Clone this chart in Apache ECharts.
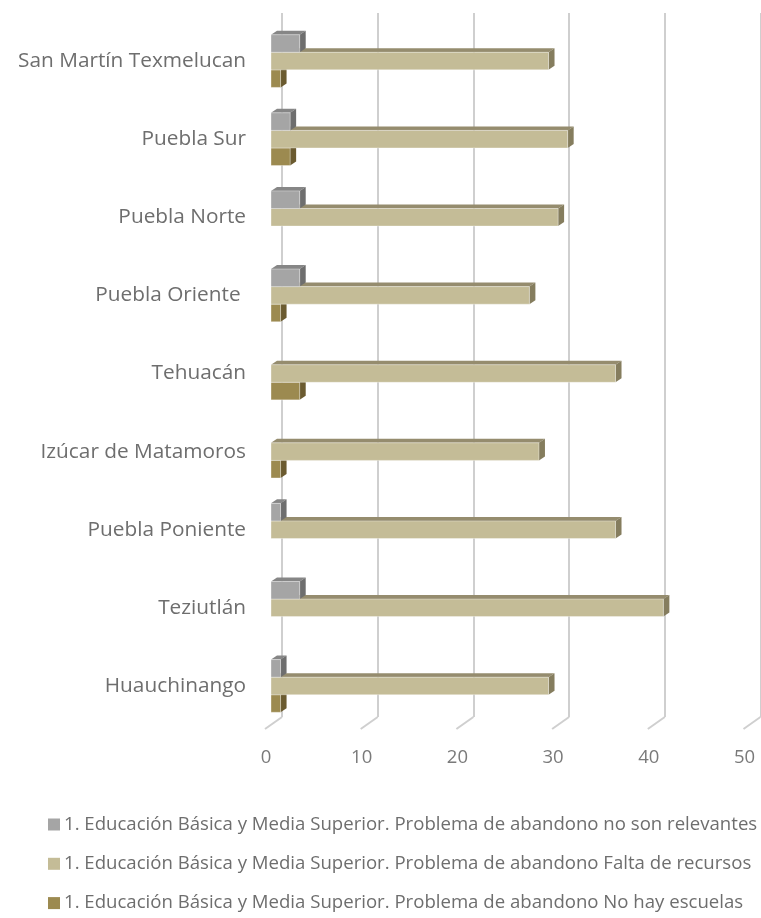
<!DOCTYPE html>
<html><head><meta charset="utf-8">
<script src="https://cdn.jsdelivr.net/npm/echarts@6/dist/echarts.min.js"></script>
<style>html,body{margin:0;padding:0;background:#fff}#c{width:761px;height:918px}</style>
</head><body><div id="c"></div>
<script>
// Categories bottom to top
const categories = ["Huauchinango","Teziutlán","Puebla Poniente","Izúcar de Matamoros","Tehuacán","Puebla Oriente ","Puebla Norte","Puebla Sur","San Martín Texmelucan"];
const seriesNames = [
  "1. Educación Básica y Media Superior. Problema de abandono no son relevantes",
  "1. Educación Básica y Media Superior. Problema de abandono Falta de recursos",
  "1. Educación Básica y Media Superior. Problema de abandono No hay escuelas"
];
const noRelevantes   = [1, 3, 1, 0, 0, 3, 3, 2, 3];
const faltaRecursos  = [29, 41, 36, 28, 36, 27, 30, 31, 29];
const noHayEscuelas  = [1, 0, 0, 1, 3, 1, 0, 2, 1];
const xTicks = [0, 10, 20, 30, 40, 50];

const values = [noRelevantes, faltaRecursos, noHayEscuelas];
const front = ["#a5a5a5", "#c4bc97", "#9c8a50"];
const top_ = ["#868686", "#958c6e", "#7d6d3c"];
const side = ["#6e6e6e", "#857d5e", "#6b5b30"];
const DX = 6, DY = -4;

const chart = echarts.init(document.getElementById('c'));

function barSeries(s) {
  return {
    name: seriesNames[s],
    type: 'custom',
    xAxisIndex: 0, yAxisIndex: 0,
    z: 10 - s,
    itemStyle: { color: front[s] },
    encode: { x: 1, y: 0 },
    data: categories.map((c, i) => [i, values[s][i]]),
    renderItem: function (params, api) {
      const ci = api.value(0), v = api.value(1);
      if (!v) return;
      const c0 = api.coord([0, ci]);
      const c1 = api.coord([v, ci]);
      const band = api.size([0, 1])[1];
      const h = band * 0.225;
      const y0 = c0[1] - 1.5 * h + s * h;
      const x0 = c0[0], x1 = c1[0];
      return {
        type: 'group',
        children: [
          { type: 'polygon', shape: { points: [[x0, y0], [x0 + DX, y0 + DY], [x1 + DX, y0 + DY], [x1, y0]] },
            style: { fill: top_[s] } },
          { type: 'polygon', shape: { points: [[x1, y0], [x1 + DX, y0 + DY], [x1 + DX, y0 + h + DY], [x1, y0 + h]] },
            style: { fill: side[s] } },
          { type: 'rect', shape: { x: x0, y: y0, width: x1 - x0, height: h },
            style: { fill: front[s], stroke: 'rgba(255,255,255,0.35)', lineWidth: 1 } }
        ]
      };
    }
  };
}

const option = {
  animation: false,
  backgroundColor: '#fff',
  textStyle: { fontFamily: 'Open Sans' },
  grid: [
    { left: 271, right: 11.5, top: 22, bottom: 193, containLabel: false },
    { left: 282, right: 0.5, top: 13, bottom: 201, containLabel: false }
  ],
  xAxis: [
    { gridIndex: 0, type: 'value', min: 0, max: 50, interval: 10,
      axisLine: { show: false }, axisTick: { show: false }, splitLine: { show: false },
      axisLabel: { color: '#7a7a7a', fontSize: 18.5, fontFamily: 'Open Sans', margin: 23, padding: [0, 10, 0, 0],
        formatter: v => xTicks.includes(v) ? String(v) : '' } },
    { gridIndex: 1, type: 'value', min: 0, max: 50, interval: 10,
      axisLine: { show: false }, axisTick: { show: false }, axisLabel: { show: false },
      splitLine: { show: true, lineStyle: { color: '#cfcfcf', width: 2 } } }
  ],
  yAxis: [
    { gridIndex: 0, type: 'category', data: categories,
      axisLine: { show: false }, axisTick: { show: false },
      axisLabel: { color: '#6e6e6e', fontSize: 20.8, fontFamily: 'Open Sans', margin: 25 } },
    { gridIndex: 1, type: 'value', min: 0, max: 1, show: false }
  ],
  legend: {
    orient: 'vertical', left: 43, top: 810,
    itemWidth: 12, itemHeight: 12, itemGap: 20.3,
    icon: 'rect',
    data: seriesNames,
    textStyle: { color: '#6e6e6e', fontSize: 18.6, fontFamily: 'Open Sans', padding: [0, 0, 0, -1] }
  },
  series: [
    {
      type: 'custom', xAxisIndex: 1, yAxisIndex: 1, z: 1, silent: true,
      data: xTicks.map(v => [v, 0]),
      renderItem: function (params, api) {
        const p = api.coord([api.value(0), 0]);
        return { type: 'line', shape: { x1: p[0], y1: p[1], x2: p[0] - 17, y2: p[1] + 12 },
          style: { stroke: '#cfcfcf', lineWidth: 2 } };
      }
    },
    barSeries(0), barSeries(1), barSeries(2)
  ]
};
chart.setOption(option);
</script></body></html>
